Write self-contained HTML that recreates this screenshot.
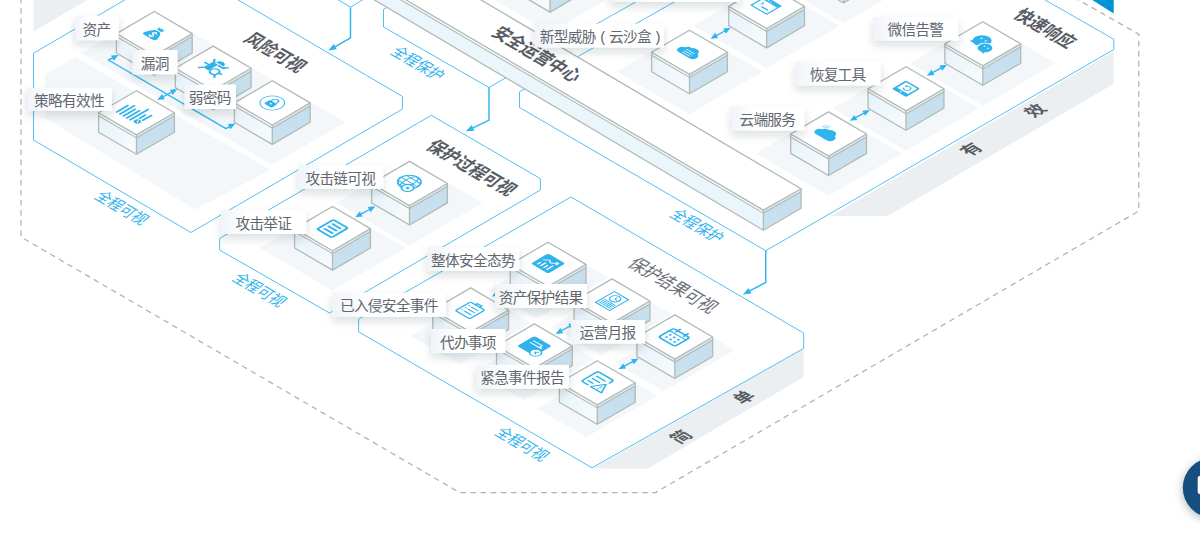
<!DOCTYPE html>
<html lang="zh-CN">
<head>
<meta charset="utf-8">
<title>安全运营中心</title>
<style>
html,body{margin:0;padding:0;background:#fff;}
body{width:1200px;height:533px;overflow:hidden;font-family:"Liberation Sans","Noto Sans CJK SC",sans-serif;}
.stage{position:relative;width:1200px;height:533px;overflow:hidden;}
svg{display:block;position:absolute;left:0;top:0;}
svg text{font-family:"Liberation Sans","Noto Sans CJK SC",sans-serif;}
.txt span{position:absolute;display:block;text-align:center;white-space:nowrap;overflow:hidden;color:transparent;font-size:14px;}
.txt .it{height:20px;line-height:20px;}
</style>
</head>
<body>
<div class="stage">
<svg width="1200" height="533" viewBox="0 0 1200 533">
<defs>
<linearGradient id="lf" x1="0" y1="0" x2="1" y2="0.5"><stop offset="0" stop-color="#e7f3fa"/><stop offset="1" stop-color="#f5fafd"/></linearGradient>
<linearGradient id="rf" x1="0" y1="0" x2="0" y2="1"><stop offset="0" stop-color="#c4ddec"/><stop offset="1" stop-color="#cbe2ef"/></linearGradient>
<linearGradient id="lb" x1="0" y1="0" x2="1" y2="0"><stop offset="0" stop-color="#f0f4f9"/><stop offset="0.35" stop-color="#fff"/></linearGradient>
<filter id="sh" x="-30%" y="-80%" width="160%" height="320%"><feDropShadow dx="0" dy="4.5" stdDeviation="4.5" flood-color="#1c2a38" flood-opacity="0.15"/></filter>
<filter id="sh2" x="-50%" y="-50%" width="200%" height="200%"><feDropShadow dx="0" dy="2" stdDeviation="5" flood-color="#000" flood-opacity="0.3"/></filter>
</defs>
<rect width="1200" height="533" fill="#fff"/>
<polyline points="21,-2 21,237 459.5,492.5 655.6,492.5 1138.75,211 1138.75,34.2 1077,-1" fill="none" stroke="#aab5b0" stroke-width="1.25" stroke-dasharray="5.6 4.5"/>
<polygon points="33.5,-1 33.5,31.4 89.2,-1" fill="#eceff2"/>
<polygon points="1113.75,51.6 1113.75,83.8 887.6,216 831,216" fill="#eceff2"/>
<polygon points="803.7,348.4 803.7,377 648,468.6 593.4,468.6" fill="#eceff2"/>
<polygon points="45,74.3 75,57 270.5,169.8 195,209.5 45,118" fill="#f4f7fa"/>
<polygon points="154.3,10.44 227.3,53 154.3,95.56 81.3,53" fill="#f4f7fa"/>
<polygon points="213.2,45.04 286.2,87.6 213.2,130.16 140.2,87.6" fill="#f4f7fa"/>
<polygon points="272.3,79.74 345.3,122.3 272.3,164.86 199.3,122.3" fill="#f4f7fa"/>
<polygon points="409.5,160.34 482.5,202.9 409.5,245.46 336.5,202.9" fill="#f4f7fa"/>
<polygon points="332.5,205.44 405.5,248 332.5,290.56 259.5,248" fill="#f4f7fa"/>
<polygon points="689.5,29.14 762.5,71.7 689.5,114.26 616.5,71.7" fill="#f4f7fa"/>
<polygon points="766.6,-16.76 839.6,25.8 766.6,68.36 693.6,25.8" fill="#f4f7fa"/>
<polygon points="843.5,-61.76 916.5,-19.2 843.5,23.36 770.5,-19.2" fill="#f4f7fa"/>
<polygon points="550,-52.56 623,-10 550,32.56 477,-10" fill="#f4f7fa"/>
<polygon points="982.8,20.64 1055.8,63.2 982.8,105.76 909.8,63.2" fill="#f4f7fa"/>
<polygon points="906,65.64 979,108.2 906,150.76 833,108.2" fill="#f4f7fa"/>
<polygon points="828.6,110.84 901.6,153.4 828.6,195.96 755.6,153.4" fill="#f4f7fa"/>
<polygon points="558.99,248.84 608.05,277.45 537.21,318.76 488.15,290.15" fill="#f4f7fa"/>
<polygon points="481.59,294.44 530.65,323.05 459.81,364.36 410.75,335.75" fill="#f4f7fa"/>
<polygon points="622.89,285.44 671.95,314.05 601.11,355.36 552.05,326.75" fill="#f4f7fa"/>
<polygon points="545.29,330.44 594.35,359.05 523.51,400.36 474.45,371.75" fill="#f4f7fa"/>
<polygon points="685.69,321.44 734.75,350.05 663.91,391.36 614.85,362.75" fill="#f4f7fa"/>
<polygon points="608.19,367.24 657.25,395.85 586.41,437.16 537.35,408.55" fill="#f4f7fa"/>
<polyline points="126.4,-1 33.5,53.2 33.5,140 190.9,232.5 402.5,109 402.5,96.5 236.5,-1" fill="none" stroke="#52c1f2" stroke-width="1"/>
<polyline points="337,-1 350.5,7.2 364,-1" fill="none" stroke="#52c1f2" stroke-width="1"/>
<polygon points="431.3,115.3 540.4,178.6 540.4,190 329.5,313 219.6,250 219.6,238.5" fill="none" stroke="#52c1f2" stroke-width="1"/>
<polygon points="571,197 803.7,333.1 803.7,348.4 592,467.8 358.6,331.8 358.6,319.2" fill="none" stroke="#52c1f2" stroke-width="1"/>
<polyline points="390,5.6 383.5,9.4 383.5,27 489,87.5 508.5,76.2" fill="none" stroke="#52c1f2" stroke-width="1"/>
<polyline points="527,87.6 519.5,91.8 519.5,107.5 765.75,250.75 1113.75,49.5 1113.75,39.2 1043.4,-1" fill="none" stroke="#52c1f2" stroke-width="1"/>
<polyline points="555,47.4 641,-1" fill="none" stroke="#52c1f2" stroke-width="1"/>
<polyline points="575,58.2 679.5,-1" fill="none" stroke="#52c1f2" stroke-width="1"/>
<polyline points="350.5,7.2 350.5,37.9 331.77,48.61" fill="none" stroke="#2fb5ee" stroke-width="1.45" stroke-linejoin="round"/><polygon points="328.3,50.6 333.7,43.94 336.78,49.32" fill="#2fb5ee"/>
<polyline points="489,87.5 489,120.2 469.41,129.57" fill="none" stroke="#2fb5ee" stroke-width="1.45" stroke-linejoin="round"/><polygon points="465.8,131.3 471.68,125.05 474.35,130.64" fill="#2fb5ee"/>
<polyline points="765.75,250.75 765.75,282.4 746.43,292.72" fill="none" stroke="#2fb5ee" stroke-width="1.45" stroke-linejoin="round"/><polygon points="742.9,294.6 748.5,288.1 751.42,293.57" fill="#2fb5ee"/>
<polygon points="323.4,-49.5 763.4,210.1 763.4,230.2 323.4,-30.28" fill="#ebf6fc"/><polygon points="323.4,-49.5 763.4,210.1 763.4,213.1 323.4,-46.5" fill="#f5fafd"/><polygon points="763.4,210.1 801.1,188.8 801.1,208.3 763.4,230.2" fill="url(#rf)"/><polygon points="763.4,210.1 801.1,188.8 801.1,191.8 763.4,213.1" fill="#dde9f2"/><polygon points="361.1,-70.8 801.1,188.8 763.4,210.1 323.4,-49.5" fill="#fff"/><polyline points="361.1,-70.8 801.1,188.8 763.4,210.1 323.4,-48.62" fill="none" stroke="#b1bab6" stroke-width="1.3" stroke-linejoin="round"/><polyline points="323.4,-45.62 763.4,213.1 801.1,191.8" fill="none" stroke="#b1bab6" stroke-width="1.1"/><polyline points="323.4,-30.28 763.4,230.2 801.1,208.3 801.1,188.8" fill="none" stroke="#b1bab6" stroke-width="1.3" stroke-linejoin="round"/><polyline points="763.4,210.1 763.4,230.2" fill="none" stroke="#b1bab6" stroke-width="1.3"/>
<polygon points="805.6,-38.6 843.5,-16.5 843.5,2.9 805.6,-19.2" fill="url(#lf)"/><polygon points="843.5,-16.5 881.4,-38.6 881.4,-19.2 843.5,2.9" fill="url(#rf)"/><polygon points="805.6,-38.6 843.5,-16.5 843.5,-13.5 805.6,-35.6" fill="#f4f8fb"/><polygon points="843.5,-16.5 881.4,-38.6 881.4,-35.6 843.5,-13.5" fill="#dde9f2"/><polyline points="805.6,-35.6 843.5,-13.5 881.4,-35.6" fill="none" stroke="#b1bab6" stroke-width="1.1"/><polyline points="805.6,-38.6 805.6,-19.2 843.5,2.9 881.4,-19.2 881.4,-38.6" fill="none" stroke="#b1bab6" stroke-width="1.3" stroke-linejoin="round"/><polyline points="843.5,-16.5 843.5,2.9" fill="none" stroke="#b1bab6" stroke-width="1.3"/><polygon points="843.5,-60.7 881.4,-38.6 843.5,-16.5 805.6,-38.6" fill="#fff" stroke="#b1bab6" stroke-width="1.3" stroke-linejoin="round"/>
<polygon points="512.1,-29.4 550,-7.3 550,12.1 512.1,-10" fill="url(#lf)"/><polygon points="550,-7.3 587.9,-29.4 587.9,-10 550,12.1" fill="url(#rf)"/><polygon points="512.1,-29.4 550,-7.3 550,-4.3 512.1,-26.4" fill="#f4f8fb"/><polygon points="550,-7.3 587.9,-29.4 587.9,-26.4 550,-4.3" fill="#dde9f2"/><polyline points="512.1,-26.4 550,-4.3 587.9,-26.4" fill="none" stroke="#b1bab6" stroke-width="1.1"/><polyline points="512.1,-29.4 512.1,-10 550,12.1 587.9,-10 587.9,-29.4" fill="none" stroke="#b1bab6" stroke-width="1.3" stroke-linejoin="round"/><polyline points="550,-7.3 550,12.1" fill="none" stroke="#b1bab6" stroke-width="1.3"/><polygon points="550,-51.5 587.9,-29.4 550,-7.3 512.1,-29.4" fill="#fff" stroke="#b1bab6" stroke-width="1.3" stroke-linejoin="round"/>
<polygon points="728.7,6.4 766.6,28.5 766.6,47.9 728.7,25.8" fill="url(#lf)"/><polygon points="766.6,28.5 804.5,6.4 804.5,25.8 766.6,47.9" fill="url(#rf)"/><polygon points="728.7,6.4 766.6,28.5 766.6,31.5 728.7,9.4" fill="#f4f8fb"/><polygon points="766.6,28.5 804.5,6.4 804.5,9.4 766.6,31.5" fill="#dde9f2"/><polyline points="728.7,9.4 766.6,31.5 804.5,9.4" fill="none" stroke="#b1bab6" stroke-width="1.1"/><polyline points="728.7,6.4 728.7,25.8 766.6,47.9 804.5,25.8 804.5,6.4" fill="none" stroke="#b1bab6" stroke-width="1.3" stroke-linejoin="round"/><polyline points="766.6,28.5 766.6,47.9" fill="none" stroke="#b1bab6" stroke-width="1.3"/><polygon points="766.6,-15.7 804.5,6.4 766.6,28.5 728.7,6.4" fill="#fff" stroke="#b1bab6" stroke-width="1.3" stroke-linejoin="round"/>
<g transform="matrix(0.8639 0.5037 -0.8639 0.5037 766.6 6.4)"><g transform="translate(-1.1 -0.5)"><rect x="-9" y="-8.2" width="18" height="16.4"  fill="none" stroke="#30b3ec" stroke-width="1.4" stroke-linecap="round" stroke-linejoin="round"/><rect x="-9" y="-8.2" width="18" height="3.8" fill="#30b3ec"/><path d="M-7,-6.3 H-5.6 M-4.2,-6.3 H-2.8 M-1.4,-6.3 H0" stroke="#fff" stroke-width="1"/><path d="M-5.2,-1.6 L-3.2,0.2 L-5.2,2"  fill="none" stroke="#30b3ec" stroke-width="1.0" stroke-linecap="round" stroke-linejoin="round"/><path d="M-1.2,3.6 H5"  fill="none" stroke="#30b3ec" stroke-width="1.6" stroke-linecap="round" stroke-linejoin="round"/></g></g>
<polygon points="116.4,33.6 154.3,55.7 154.3,75.1 116.4,53" fill="url(#lf)"/><polygon points="154.3,55.7 192.2,33.6 192.2,53 154.3,75.1" fill="url(#rf)"/><polygon points="116.4,33.6 154.3,55.7 154.3,58.7 116.4,36.6" fill="#f4f8fb"/><polygon points="154.3,55.7 192.2,33.6 192.2,36.6 154.3,58.7" fill="#dde9f2"/><polyline points="116.4,36.6 154.3,58.7 192.2,36.6" fill="none" stroke="#b1bab6" stroke-width="1.1"/><polyline points="116.4,33.6 116.4,53 154.3,75.1 192.2,53 192.2,33.6" fill="none" stroke="#b1bab6" stroke-width="1.3" stroke-linejoin="round"/><polyline points="154.3,55.7 154.3,75.1" fill="none" stroke="#b1bab6" stroke-width="1.3"/><polygon points="154.3,11.5 192.2,33.6 154.3,55.7 116.4,33.6" fill="#fff" stroke="#b1bab6" stroke-width="1.3" stroke-linejoin="round"/>
<g transform="matrix(0.8639 0.5037 -0.8639 0.5037 154.3 33.6)"><path d="M-4.6,7 Q-8.4,7 -7,3.2 Q-5.6,-2 -2.4,-4.4 H2.4 Q5.6,-2 7,3.2 Q8.4,7 4.6,7 Z" fill="#30b3ec"/><path d="M-3.7,-9.4 L-1.5,-8 L0,-9.6 L1.5,-8 L3.7,-9.4 L2.3,-5.6 L-2.3,-5.6 Z" fill="#30b3ec"/><path d="M1.9,-0.6 C1,-1.9 -2,-1.7 -1.9,0 C-1.8,1.7 2,1.3 2,3.3 C2,5.1 -1.3,5.2 -2.2,3.7"  fill="none" stroke="#fff" stroke-width="1.1" stroke-linecap="round" stroke-linejoin="round"/><path d="M0,-2.6 V6"  fill="none" stroke="#fff" stroke-width="0.9" stroke-linecap="round" stroke-linejoin="round"/></g>
<polygon points="944.9,43.8 982.8,65.9 982.8,85.3 944.9,63.2" fill="url(#lf)"/><polygon points="982.8,65.9 1020.7,43.8 1020.7,63.2 982.8,85.3" fill="url(#rf)"/><polygon points="944.9,43.8 982.8,65.9 982.8,68.9 944.9,46.8" fill="#f4f8fb"/><polygon points="982.8,65.9 1020.7,43.8 1020.7,46.8 982.8,68.9" fill="#dde9f2"/><polyline points="944.9,46.8 982.8,68.9 1020.7,46.8" fill="none" stroke="#b1bab6" stroke-width="1.1"/><polyline points="944.9,43.8 944.9,63.2 982.8,85.3 1020.7,63.2 1020.7,43.8" fill="none" stroke="#b1bab6" stroke-width="1.3" stroke-linejoin="round"/><polyline points="982.8,65.9 982.8,85.3" fill="none" stroke="#b1bab6" stroke-width="1.3"/><polygon points="982.8,21.7 1020.7,43.8 982.8,65.9 944.9,43.8" fill="#fff" stroke="#b1bab6" stroke-width="1.3" stroke-linejoin="round"/>
<g transform="matrix(0.8639 0.5037 -0.8639 0.5037 982.8 43.8)"><circle cx="-3.4" cy="-2.6" r="7.8" fill="#30b3ec"/><path d="M-9.6,1.6 L-10.4,4.8 L-6.4,4.2 Z" fill="#30b3ec"/><circle cx="5.4" cy="2.8" r="6.6" fill="#30b3ec" stroke="#fff" stroke-width="1.1"/><path d="M9.2,7 L10.2,9.4 L6.4,8.6 Z" fill="#30b3ec"/><circle cx="-6.2" cy="-4.6" r="0.95" fill="#fff"/><circle cx="-1.2" cy="-4.6" r="0.95" fill="#fff"/><circle cx="3.4" cy="1.4" r="0.8" fill="#fff"/><circle cx="7.4" cy="1.4" r="0.8" fill="#fff"/></g>
<polygon points="651.6,52.3 689.5,74.4 689.5,93.8 651.6,71.7" fill="url(#lf)"/><polygon points="689.5,74.4 727.4,52.3 727.4,71.7 689.5,93.8" fill="url(#rf)"/><polygon points="651.6,52.3 689.5,74.4 689.5,77.4 651.6,55.3" fill="#f4f8fb"/><polygon points="689.5,74.4 727.4,52.3 727.4,55.3 689.5,77.4" fill="#dde9f2"/><polyline points="651.6,55.3 689.5,77.4 727.4,55.3" fill="none" stroke="#b1bab6" stroke-width="1.1"/><polyline points="651.6,52.3 651.6,71.7 689.5,93.8 727.4,71.7 727.4,52.3" fill="none" stroke="#b1bab6" stroke-width="1.3" stroke-linejoin="round"/><polyline points="689.5,74.4 689.5,93.8" fill="none" stroke="#b1bab6" stroke-width="1.3"/><polygon points="689.5,30.2 727.4,52.3 689.5,74.4 651.6,52.3" fill="#fff" stroke="#b1bab6" stroke-width="1.3" stroke-linejoin="round"/>
<g transform="matrix(0.8639 0.5037 -0.8639 0.5037 689.5 52.3)"><path d="M-6.6,6 A4.3,4.3 0 0 1 -7.4,-2.5 A3.6,3.6 0 0 1 -3.2,-5.4 A5.6,5.6 0 0 1 6.6,-2.6 A4.4,4.4 0 0 1 6.2,6 Z" fill="#30b3ec"/><path d="M-4.2,-1.4 H4 M-4.2,1.2 H4 M-4.2,3.8 H4"  fill="none" stroke="#fff" stroke-width="1.0" stroke-linecap="round" stroke-linejoin="round" stroke-dasharray="1.5 1.2"/></g>
<polygon points="175.3,68.2 213.2,90.3 213.2,109.7 175.3,87.6" fill="url(#lf)"/><polygon points="213.2,90.3 251.1,68.2 251.1,87.6 213.2,109.7" fill="url(#rf)"/><polygon points="175.3,68.2 213.2,90.3 213.2,93.3 175.3,71.2" fill="#f4f8fb"/><polygon points="213.2,90.3 251.1,68.2 251.1,71.2 213.2,93.3" fill="#dde9f2"/><polyline points="175.3,71.2 213.2,93.3 251.1,71.2" fill="none" stroke="#b1bab6" stroke-width="1.1"/><polyline points="175.3,68.2 175.3,87.6 213.2,109.7 251.1,87.6 251.1,68.2" fill="none" stroke="#b1bab6" stroke-width="1.3" stroke-linejoin="round"/><polyline points="213.2,90.3 213.2,109.7" fill="none" stroke="#b1bab6" stroke-width="1.3"/><polygon points="213.2,46.1 251.1,68.2 213.2,90.3 175.3,68.2" fill="#fff" stroke="#b1bab6" stroke-width="1.3" stroke-linejoin="round"/>
<g transform="matrix(0.8639 0.5037 -0.8639 0.5037 213.2 68.2)"><path d="M-4.2,-7.6 A4.2,4.2 0 0 1 4.2,-7.6 Z" fill="#30b3ec"/><path d="M-6.6,-6.2 H-0.6 V5 H-4.2 A2.4,2.4 0 0 1 -6.6,2.6 Z" fill="#30b3ec"/><path d="M0.6,-5.6 H6.8"  fill="none" stroke="#30b3ec" stroke-width="2.0" stroke-linecap="round" stroke-linejoin="round"/><circle cx="4.3" cy="2.6" r="4.0"  fill="none" stroke="#30b3ec" stroke-width="1.8" stroke-linecap="round" stroke-linejoin="round"/><path d="M-6.4,4.4 L-9,7.6 M5.6,-6.4 L8.4,-9 M-5.2,-6.4 L-8,-9.4 M7.4,5.8 L9.6,8.2 M-6.6,-1 H-10.4 M8.6,1.4 H10.8"  fill="none" stroke="#30b3ec" stroke-width="1.9" stroke-linecap="round" stroke-linejoin="round"/></g>
<polygon points="868.1,88.8 906,110.9 906,130.3 868.1,108.2" fill="url(#lf)"/><polygon points="906,110.9 943.9,88.8 943.9,108.2 906,130.3" fill="url(#rf)"/><polygon points="868.1,88.8 906,110.9 906,113.9 868.1,91.8" fill="#f4f8fb"/><polygon points="906,110.9 943.9,88.8 943.9,91.8 906,113.9" fill="#dde9f2"/><polyline points="868.1,91.8 906,113.9 943.9,91.8" fill="none" stroke="#b1bab6" stroke-width="1.1"/><polyline points="868.1,88.8 868.1,108.2 906,130.3 943.9,108.2 943.9,88.8" fill="none" stroke="#b1bab6" stroke-width="1.3" stroke-linejoin="round"/><polyline points="906,110.9 906,130.3" fill="none" stroke="#b1bab6" stroke-width="1.3"/><polygon points="906,66.7 943.9,88.8 906,110.9 868.1,88.8" fill="#fff" stroke="#b1bab6" stroke-width="1.3" stroke-linejoin="round"/>
<g transform="matrix(0.8639 0.5037 -0.8639 0.5037 906 88.8)"><rect x="-8.2" y="-8.2" width="16.4" height="16.4" rx="1.6" fill="#30b3ec"/><rect x="-6.3" y="-6.6" width="12.6" height="10.6" fill="#fff"/><path d="M-2.4,-2.6 A3,3 0 1 1 -2.2,0.6"  fill="none" stroke="#30b3ec" stroke-width="1.1" stroke-linecap="round" stroke-linejoin="round"/><path d="M-4.2,-3.2 L-2.2,-1.6 L-1.4,-4 Z" fill="#30b3ec"/><circle cx="0" cy="6.2" r="0.85" fill="#fff"/></g>
<polygon points="234.4,102.9 272.3,125 272.3,144.4 234.4,122.3" fill="url(#lf)"/><polygon points="272.3,125 310.2,102.9 310.2,122.3 272.3,144.4" fill="url(#rf)"/><polygon points="234.4,102.9 272.3,125 272.3,128 234.4,105.9" fill="#f4f8fb"/><polygon points="272.3,125 310.2,102.9 310.2,105.9 272.3,128" fill="#dde9f2"/><polyline points="234.4,105.9 272.3,128 310.2,105.9" fill="none" stroke="#b1bab6" stroke-width="1.1"/><polyline points="234.4,102.9 234.4,122.3 272.3,144.4 310.2,122.3 310.2,102.9" fill="none" stroke="#b1bab6" stroke-width="1.3" stroke-linejoin="round"/><polyline points="272.3,125 272.3,144.4" fill="none" stroke="#b1bab6" stroke-width="1.3"/><polygon points="272.3,80.8 310.2,102.9 272.3,125 234.4,102.9" fill="#fff" stroke="#b1bab6" stroke-width="1.3" stroke-linejoin="round"/>
<g transform="matrix(0.8639 0.5037 -0.8639 0.5037 272.3 102.9)"><circle r="10"  fill="none" stroke="#4bbdf0" stroke-width="1.0" stroke-linecap="round" stroke-linejoin="round"/><rect x="-4.3" y="-1.6" width="8.6" height="7" rx="1.2" fill="#30b3ec"/><path d="M-2.7,-1.6 V-3.4 A2.7,2.7 0 0 1 2.7,-3.4 V-1.6"  fill="none" stroke="#30b3ec" stroke-width="1.2" stroke-linecap="round" stroke-linejoin="round"/><circle cx="0" cy="1.8" r="1" fill="#fff"/></g>
<polygon points="98.6,112.8 136.5,134.9 136.5,154.3 98.6,132.2" fill="url(#lf)"/><polygon points="136.5,134.9 174.4,112.8 174.4,132.2 136.5,154.3" fill="url(#rf)"/><polygon points="98.6,112.8 136.5,134.9 136.5,137.9 98.6,115.8" fill="#f4f8fb"/><polygon points="136.5,134.9 174.4,112.8 174.4,115.8 136.5,137.9" fill="#dde9f2"/><polyline points="98.6,115.8 136.5,137.9 174.4,115.8" fill="none" stroke="#b1bab6" stroke-width="1.1"/><polyline points="98.6,112.8 98.6,132.2 136.5,154.3 174.4,132.2 174.4,112.8" fill="none" stroke="#b1bab6" stroke-width="1.3" stroke-linejoin="round"/><polyline points="136.5,134.9 136.5,154.3" fill="none" stroke="#b1bab6" stroke-width="1.3"/><polygon points="136.5,90.7 174.4,112.8 136.5,134.9 98.6,112.8" fill="#fff" stroke="#b1bab6" stroke-width="1.3" stroke-linejoin="round"/>
<g transform="matrix(0.8639 0.5037 -0.8639 0.5037 136.5 112.8)"><g transform="translate(1.2 1.2)"><path d="M-13.4,9.4 V-3.3 M-9.5,9.4 V-7.0 M-5.6,9.4 V-3.9 M-1.7,9.4 V-5.0 M2.2,9.4 V-11.1 M6.1,2.2 V-4.0 M10.0,2.6 V-7.2 "  fill="none" stroke="#30b3ec" stroke-width="2.0" stroke-linecap="round" stroke-linejoin="round"/><circle cx="8" cy="7" r="3.0" fill="#30b3ec"/><path d="M7.9,5.4 V7.3 L9.3,8"  fill="none" stroke="#fff" stroke-width="0.8" stroke-linecap="round" stroke-linejoin="round"/></g></g>
<polygon points="790.7,134 828.6,156.1 828.6,175.5 790.7,153.4" fill="url(#lf)"/><polygon points="828.6,156.1 866.5,134 866.5,153.4 828.6,175.5" fill="url(#rf)"/><polygon points="790.7,134 828.6,156.1 828.6,159.1 790.7,137" fill="#f4f8fb"/><polygon points="828.6,156.1 866.5,134 866.5,137 828.6,159.1" fill="#dde9f2"/><polyline points="790.7,137 828.6,159.1 866.5,137" fill="none" stroke="#b1bab6" stroke-width="1.1"/><polyline points="790.7,134 790.7,153.4 828.6,175.5 866.5,153.4 866.5,134" fill="none" stroke="#b1bab6" stroke-width="1.3" stroke-linejoin="round"/><polyline points="828.6,156.1 828.6,175.5" fill="none" stroke="#b1bab6" stroke-width="1.3"/><polygon points="828.6,111.9 866.5,134 828.6,156.1 790.7,134" fill="#fff" stroke="#b1bab6" stroke-width="1.3" stroke-linejoin="round"/>
<g transform="matrix(0.8639 0.5037 -0.8639 0.5037 828.6 134)"><path d="M-6.6,6 A4.3,4.3 0 0 1 -7.4,-2.5 A3.6,3.6 0 0 1 -3.2,-5.4 A5.6,5.6 0 0 1 6.6,-2.6 A4.4,4.4 0 0 1 6.2,6 Z" fill="#30b3ec" transform="translate(-0.7 1.4)"/></g>
<polygon points="371.6,183.5 409.5,205.6 409.5,225 371.6,202.9" fill="url(#lf)"/><polygon points="409.5,205.6 447.4,183.5 447.4,202.9 409.5,225" fill="url(#rf)"/><polygon points="371.6,183.5 409.5,205.6 409.5,208.6 371.6,186.5" fill="#f4f8fb"/><polygon points="409.5,205.6 447.4,183.5 447.4,186.5 409.5,208.6" fill="#dde9f2"/><polyline points="371.6,186.5 409.5,208.6 447.4,186.5" fill="none" stroke="#b1bab6" stroke-width="1.1"/><polyline points="371.6,183.5 371.6,202.9 409.5,225 447.4,202.9 447.4,183.5" fill="none" stroke="#b1bab6" stroke-width="1.3" stroke-linejoin="round"/><polyline points="409.5,205.6 409.5,225" fill="none" stroke="#b1bab6" stroke-width="1.3"/><polygon points="409.5,161.4 447.4,183.5 409.5,205.6 371.6,183.5" fill="#fff" stroke="#b1bab6" stroke-width="1.3" stroke-linejoin="round"/>
<g transform="matrix(0.8639 0.5037 -0.8639 0.5037 409.5 183.5)"><circle cx="-1.6" cy="-1.4" r="9.5"  fill="none" stroke="#30b3ec" stroke-width="1.5" stroke-linecap="round" stroke-linejoin="round"/><ellipse cx="-1.6" cy="-1.4" rx="4" ry="9.5"  fill="none" stroke="#30b3ec" stroke-width="1.1" stroke-linecap="round" stroke-linejoin="round"/><path d="M-11.1,-1.4 H7.9 M-9.6,-6.2 H6.4 M-9.6,3.4 H6.4"  fill="none" stroke="#30b3ec" stroke-width="1.1" stroke-linecap="round" stroke-linejoin="round"/><circle cx="3.3" cy="5.5" r="5" fill="#fff" stroke="#30b3ec" stroke-width="1.5"/><circle cx="3.3" cy="5.5" r="1.6" fill="#30b3ec"/></g>
<polygon points="294.6,228.6 332.5,250.7 332.5,270.1 294.6,248" fill="url(#lf)"/><polygon points="332.5,250.7 370.4,228.6 370.4,248 332.5,270.1" fill="url(#rf)"/><polygon points="294.6,228.6 332.5,250.7 332.5,253.7 294.6,231.6" fill="#f4f8fb"/><polygon points="332.5,250.7 370.4,228.6 370.4,231.6 332.5,253.7" fill="#dde9f2"/><polyline points="294.6,231.6 332.5,253.7 370.4,231.6" fill="none" stroke="#b1bab6" stroke-width="1.1"/><polyline points="294.6,228.6 294.6,248 332.5,270.1 370.4,248 370.4,228.6" fill="none" stroke="#b1bab6" stroke-width="1.3" stroke-linejoin="round"/><polyline points="332.5,250.7 332.5,270.1" fill="none" stroke="#b1bab6" stroke-width="1.3"/><polygon points="332.5,206.5 370.4,228.6 332.5,250.7 294.6,228.6" fill="#fff" stroke="#b1bab6" stroke-width="1.3" stroke-linejoin="round"/>
<g transform="matrix(0.8639 0.5037 -0.8639 0.5037 332.5 228.6)"><rect x="-8.3" y="-9.3" width="16.6" height="18.6" rx="1.6"  fill="none" stroke="#30b3ec" stroke-width="2.1" stroke-linecap="round" stroke-linejoin="round"/><path d="M-4.4,-4.6 H4.4 M-4.4,0 H4.4 M-4.4,4.6 H4.4"  fill="none" stroke="#30b3ec" stroke-width="2.1" stroke-linecap="round" stroke-linejoin="round"/></g>
<polygon points="510.2,264.4 548.1,286.5 548.1,305.9 510.2,283.8" fill="url(#lf)"/><polygon points="548.1,286.5 586,264.4 586,283.8 548.1,305.9" fill="url(#rf)"/><polygon points="510.2,264.4 548.1,286.5 548.1,289.5 510.2,267.4" fill="#f4f8fb"/><polygon points="548.1,286.5 586,264.4 586,267.4 548.1,289.5" fill="#dde9f2"/><polyline points="510.2,267.4 548.1,289.5 586,267.4" fill="none" stroke="#b1bab6" stroke-width="1.1"/><polyline points="510.2,264.4 510.2,283.8 548.1,305.9 586,283.8 586,264.4" fill="none" stroke="#b1bab6" stroke-width="1.3" stroke-linejoin="round"/><polyline points="548.1,286.5 548.1,305.9" fill="none" stroke="#b1bab6" stroke-width="1.3"/><polygon points="548.1,242.3 586,264.4 548.1,286.5 510.2,264.4" fill="#fff" stroke="#b1bab6" stroke-width="1.3" stroke-linejoin="round"/>
<g transform="matrix(0.8639 0.5037 -0.8639 0.5037 548.1 264.4)"><g transform="translate(-0.9 -0.9)"><rect x="-10" y="-10" width="20" height="20" rx="2.2" fill="#30b3ec"/><path d="M-5.6,6.4 V3.2 M-2,6.4 V1 M1.6,6.4 V2.6 M5.2,6.4 V0"  fill="none" stroke="#fff" stroke-width="1.5" stroke-linecap="round" stroke-linejoin="round"/><path d="M-6.4,-0.6 L-2.4,-4.2 L0.8,-1.8 L5.8,-5.6"  fill="none" stroke="#fff" stroke-width="1.1" stroke-linecap="round" stroke-linejoin="round"/><path d="M3.6,-6.2 L6.4,-6 L5.8,-3.2"  fill="none" stroke="#fff" stroke-width="1.1" stroke-linecap="round" stroke-linejoin="round"/></g></g>
<polygon points="574.1,301 612,323.1 612,342.5 574.1,320.4" fill="url(#lf)"/><polygon points="612,323.1 649.9,301 649.9,320.4 612,342.5" fill="url(#rf)"/><polygon points="574.1,301 612,323.1 612,326.1 574.1,304" fill="#f4f8fb"/><polygon points="612,323.1 649.9,301 649.9,304 612,326.1" fill="#dde9f2"/><polyline points="574.1,304 612,326.1 649.9,304" fill="none" stroke="#b1bab6" stroke-width="1.1"/><polyline points="574.1,301 574.1,320.4 612,342.5 649.9,320.4 649.9,301" fill="none" stroke="#b1bab6" stroke-width="1.3" stroke-linejoin="round"/><polyline points="612,323.1 612,342.5" fill="none" stroke="#b1bab6" stroke-width="1.3"/><polygon points="612,278.9 649.9,301 612,323.1 574.1,301" fill="#fff" stroke="#b1bab6" stroke-width="1.3" stroke-linejoin="round"/>
<g transform="matrix(0.8639 0.5037 -0.8639 0.5037 612 301)"><rect x="-8.1" y="-10.8" width="16.2" height="21.6"  fill="none" stroke="#30b3ec" stroke-width="1.25" stroke-linecap="round" stroke-linejoin="round"/><circle cx="-0.3" cy="-4" r="4.5"  fill="none" stroke="#30b3ec" stroke-width="1.2" stroke-linecap="round" stroke-linejoin="round"/><path d="M-0.3,-6.6 V-3.8 L2.4,-3"  fill="none" stroke="#30b3ec" stroke-width="1.0" stroke-linecap="round" stroke-linejoin="round"/><path d="M-6.4,2.6 H6.4 M-6.4,4.5 H6.4 M-6.4,6.4 H6.4 M-6.4,8.3 H6.4 M2.4,2.6 V8.3"  fill="none" stroke="#30b3ec" stroke-width="0.85" stroke-linecap="round" stroke-linejoin="round"/></g>
<polygon points="432.8,310 470.7,332.1 470.7,351.5 432.8,329.4" fill="url(#lf)"/><polygon points="470.7,332.1 508.6,310 508.6,329.4 470.7,351.5" fill="url(#rf)"/><polygon points="432.8,310 470.7,332.1 470.7,335.1 432.8,313" fill="#f4f8fb"/><polygon points="470.7,332.1 508.6,310 508.6,313 470.7,335.1" fill="#dde9f2"/><polyline points="432.8,313 470.7,335.1 508.6,313" fill="none" stroke="#b1bab6" stroke-width="1.1"/><polyline points="432.8,310 432.8,329.4 470.7,351.5 508.6,329.4 508.6,310" fill="none" stroke="#b1bab6" stroke-width="1.3" stroke-linejoin="round"/><polyline points="470.7,332.1 470.7,351.5" fill="none" stroke="#b1bab6" stroke-width="1.3"/><polygon points="470.7,287.9 508.6,310 470.7,332.1 432.8,310" fill="#fff" stroke="#b1bab6" stroke-width="1.3" stroke-linejoin="round"/>
<g transform="matrix(0.8639 0.5037 -0.8639 0.5037 470.7 310)"><rect x="-8.2" y="-8" width="16.4" height="17.4" rx="1.4"  fill="none" stroke="#30b3ec" stroke-width="1.5" stroke-linecap="round" stroke-linejoin="round"/><path d="M-2.6,-8 V-10.2 H2.6 V-8"  fill="none" stroke="#30b3ec" stroke-width="1.5" stroke-linecap="round" stroke-linejoin="round"/><path d="M-2.4,-3.4 H5 M-2.4,0.6 H5 M-2.4,4.6 H5 M-5.4,-3.4 H-4.6 M-5.4,0.6 H-4.6 M-5.4,4.6 H-4.6"  fill="none" stroke="#30b3ec" stroke-width="1.2" stroke-linecap="round" stroke-linejoin="round"/></g>
<polygon points="636.9,337 674.8,359.1 674.8,378.5 636.9,356.4" fill="url(#lf)"/><polygon points="674.8,359.1 712.7,337 712.7,356.4 674.8,378.5" fill="url(#rf)"/><polygon points="636.9,337 674.8,359.1 674.8,362.1 636.9,340" fill="#f4f8fb"/><polygon points="674.8,359.1 712.7,337 712.7,340 674.8,362.1" fill="#dde9f2"/><polyline points="636.9,340 674.8,362.1 712.7,340" fill="none" stroke="#b1bab6" stroke-width="1.1"/><polyline points="636.9,337 636.9,356.4 674.8,378.5 712.7,356.4 712.7,337" fill="none" stroke="#b1bab6" stroke-width="1.3" stroke-linejoin="round"/><polyline points="674.8,359.1 674.8,378.5" fill="none" stroke="#b1bab6" stroke-width="1.3"/><polygon points="674.8,314.9 712.7,337 674.8,359.1 636.9,337" fill="#fff" stroke="#b1bab6" stroke-width="1.3" stroke-linejoin="round"/>
<g transform="matrix(0.8639 0.5037 -0.8639 0.5037 674.8 337)"><g transform="scale(1.06)"><rect x="-8.8" y="-7.4" width="17.6" height="16.2" rx="2.2"  fill="none" stroke="#30b3ec" stroke-width="1.7" stroke-linecap="round" stroke-linejoin="round"/><path d="M-8.8,-3.2 H8.8"  fill="none" stroke="#30b3ec" stroke-width="1.3" stroke-linecap="round" stroke-linejoin="round"/><path d="M-4.2,-10.2 V-5.6 M4.2,-10.2 V-5.6"  fill="none" stroke="#30b3ec" stroke-width="1.7" stroke-linecap="round" stroke-linejoin="round"/><circle cx="-4.4" cy="0.6" r="1.15" fill="#30b3ec"/><circle cx="-4.4" cy="4.6" r="1.15" fill="#30b3ec"/><circle cx="0" cy="0.6" r="1.15" fill="#30b3ec"/><circle cx="0" cy="4.6" r="1.15" fill="#30b3ec"/><circle cx="4.4" cy="0.6" r="1.15" fill="#30b3ec"/><circle cx="4.4" cy="4.6" r="1.15" fill="#30b3ec"/></g></g>
<polygon points="496.5,346 534.4,368.1 534.4,387.5 496.5,365.4" fill="url(#lf)"/><polygon points="534.4,368.1 572.3,346 572.3,365.4 534.4,387.5" fill="url(#rf)"/><polygon points="496.5,346 534.4,368.1 534.4,371.1 496.5,349" fill="#f4f8fb"/><polygon points="534.4,368.1 572.3,346 572.3,349 534.4,371.1" fill="#dde9f2"/><polyline points="496.5,349 534.4,371.1 572.3,349" fill="none" stroke="#b1bab6" stroke-width="1.1"/><polyline points="496.5,346 496.5,365.4 534.4,387.5 572.3,365.4 572.3,346" fill="none" stroke="#b1bab6" stroke-width="1.3" stroke-linejoin="round"/><polyline points="534.4,368.1 534.4,387.5" fill="none" stroke="#b1bab6" stroke-width="1.3"/><polygon points="534.4,323.9 572.3,346 534.4,368.1 496.5,346" fill="#fff" stroke="#b1bab6" stroke-width="1.3" stroke-linejoin="round"/>
<g transform="matrix(0.8639 0.5037 -0.8639 0.5037 534.4 346)"><rect x="-10.1" y="-10.1" width="20.2" height="20.2" rx="2.2" fill="#30b3ec"/><path d="M-5.8,-4.8 H4.4 M-5.8,-1.2 H6.4"  fill="none" stroke="#fff" stroke-width="1.1" stroke-linecap="round" stroke-linejoin="round"/><path d="M3.4,-4.6 L7.4,-1.4 L3.4,-1 Z" fill="#fff"/><circle cx="7.4" cy="6" r="4.9" fill="#fff" stroke="#30b3ec" stroke-width="1.3"/><path d="M8.6,3.8 L6.4,6 L8.8,7.4"  fill="none" stroke="#30b3ec" stroke-width="1.1" stroke-linecap="round" stroke-linejoin="round"/></g>
<polygon points="559.4,382.8 597.3,404.9 597.3,424.3 559.4,402.2" fill="url(#lf)"/><polygon points="597.3,404.9 635.2,382.8 635.2,402.2 597.3,424.3" fill="url(#rf)"/><polygon points="559.4,382.8 597.3,404.9 597.3,407.9 559.4,385.8" fill="#f4f8fb"/><polygon points="597.3,404.9 635.2,382.8 635.2,385.8 597.3,407.9" fill="#dde9f2"/><polyline points="559.4,385.8 597.3,407.9 635.2,385.8" fill="none" stroke="#b1bab6" stroke-width="1.1"/><polyline points="559.4,382.8 559.4,402.2 597.3,424.3 635.2,402.2 635.2,382.8" fill="none" stroke="#b1bab6" stroke-width="1.3" stroke-linejoin="round"/><polyline points="597.3,404.9 597.3,424.3" fill="none" stroke="#b1bab6" stroke-width="1.3"/><polygon points="597.3,360.7 635.2,382.8 597.3,404.9 559.4,382.8" fill="#fff" stroke="#b1bab6" stroke-width="1.3" stroke-linejoin="round"/>
<g transform="matrix(0.8639 0.5037 -0.8639 0.5037 597.3 382.8)"><g transform="translate(-1.8 -2.1)"><path d="M-1.6,9.55 H-6.9 A2.25,2.25 0 0 1 -9.15,7.3 V-7.3 A2.25,2.25 0 0 1 -6.9,-9.55 H6.9 A2.25,2.25 0 0 1 9.15,-7.3 V-4.8"  fill="none" stroke="#30b3ec" stroke-width="1.7" stroke-linecap="round" stroke-linejoin="round"/><path d="M-5.3,-4.2 H4.5 M-5.4,0.5 H2.6 M-5.6,5.2 H-0.4"  fill="none" stroke="#30b3ec" stroke-width="1.6" stroke-linecap="round" stroke-linejoin="round"/><path d="M8.3,-1.6 L14.2,9.7 H1.6 Z" fill="#fff" stroke="#30b3ec" stroke-width="1.5" stroke-linejoin="round"/><path d="M8.1,3 V6"  fill="none" stroke="#30b3ec" stroke-width="1.1" stroke-linecap="round" stroke-linejoin="round"/><circle cx="8.1" cy="7.9" r="0.7" fill="#30b3ec"/></g></g>
<g fill="none" stroke="#7fd0f4" stroke-width="0.8" stroke-linecap="round"><path d="M822.4,126.6 q4,-2.2 8,0"/><path d="M823.8,128 q2.6,-1.4 5.2,0"/></g>
<polyline points="160.77,98 173.93,90.9" fill="none" stroke="#2fb5ee" stroke-width="1.4"/><polygon points="157.25,99.9 162.03,94.02 164.79,99.13" fill="#2fb5ee"/><polygon points="177.45,89 172.67,94.88 169.91,89.77" fill="#2fb5ee"/>
<polyline points="358.62,215.35 371.78,208.25" fill="none" stroke="#2fb5ee" stroke-width="1.4"/><polygon points="355.1,217.25 359.88,211.37 362.64,216.48" fill="#2fb5ee"/><polygon points="375.3,206.35 370.52,212.23 367.76,207.12" fill="#2fb5ee"/>
<polyline points="495.32,294.7 508.48,287.6" fill="none" stroke="#2fb5ee" stroke-width="1.4"/><polygon points="491.8,296.6 496.58,290.72 499.34,295.83" fill="#2fb5ee"/><polygon points="512,285.7 507.22,291.58 504.46,286.47" fill="#2fb5ee"/>
<polyline points="559.12,332 572.28,324.9" fill="none" stroke="#2fb5ee" stroke-width="1.4"/><polygon points="555.6,333.9 560.38,328.02 563.14,333.13" fill="#2fb5ee"/><polygon points="575.8,323 571.02,328.88 568.26,323.77" fill="#2fb5ee"/>
<polyline points="621.97,367.4 635.13,360.3" fill="none" stroke="#2fb5ee" stroke-width="1.4"/><polygon points="618.45,369.3 623.23,363.42 625.99,368.53" fill="#2fb5ee"/><polygon points="638.65,358.4 633.87,364.28 631.11,359.17" fill="#2fb5ee"/>
<polyline points="713.97,36.85 727.13,29.75" fill="none" stroke="#2fb5ee" stroke-width="1.4"/><polygon points="710.45,38.75 715.23,32.87 717.99,37.98" fill="#2fb5ee"/><polygon points="730.65,27.85 725.87,33.73 723.11,28.62" fill="#2fb5ee"/>
<polyline points="853.22,118.9 866.38,111.8" fill="none" stroke="#2fb5ee" stroke-width="1.4"/><polygon points="849.7,120.8 854.48,114.92 857.24,120.03" fill="#2fb5ee"/><polygon points="869.9,109.9 865.12,115.78 862.36,110.67" fill="#2fb5ee"/>
<polyline points="930.32,73.8 943.48,66.7" fill="none" stroke="#2fb5ee" stroke-width="1.4"/><polygon points="926.8,75.7 931.58,69.82 934.34,74.93" fill="#2fb5ee"/><polygon points="947,64.8 942.22,70.68 939.46,65.57" fill="#2fb5ee"/>
<polyline points="115.2,56.7 108.4,60 226,128.6 232,125.4" fill="none" stroke="#2fb5ee" stroke-width="1.4" stroke-linejoin="round"/>
<polygon points="118.6,55 113.59,60.68 111.04,55.48" fill="#2fb5ee"/>
<polygon points="235.4,123.6 230.39,129.28 227.84,124.08" fill="#2fb5ee"/>
<g fill="#585d65" transform="matrix(0.8639 0.5037 -0.9193 0.7713 275.6 52.2)"><text x="0" y="6.08" font-size="16" font-weight="bold" text-anchor="middle">风险可视</text></g>
<g fill="#585d65" transform="matrix(0.8639 0.5037 -0.9193 0.7713 472 167.5)"><text x="0" y="6.08" font-size="16" font-weight="bold" text-anchor="middle">保护过程可视</text></g>
<g fill="#585d65" transform="matrix(0.8639 0.5037 -0.9193 0.7713 537.4 54)"><text x="0" y="6.08" font-size="16" font-weight="bold" text-anchor="middle">安全运营中心</text></g>
<g fill="#585d65" transform="matrix(0.8639 0.5037 -0.9193 0.7713 1045.6 28.1)"><text x="0" y="6.08" font-size="16" font-weight="bold" text-anchor="middle">快速响应</text></g>
<g fill="#6b7077" transform="matrix(0.8639 0.5037 -0.9193 0.7713 673.5 284.9)"><text x="0" y="6.08" font-size="16" text-anchor="middle">保护结果可视</text></g>
<g fill="#30b3ee" transform="matrix(0.8639 0.5037 -0.9193 0.7713 122.1 207.6)"><text x="0" y="5.24" font-size="13.8" text-anchor="middle">全程可视</text></g>
<g fill="#30b3ee" transform="matrix(0.8639 0.5037 -0.9193 0.7713 259.8 289.5)"><text x="0" y="5.24" font-size="13.8" text-anchor="middle">全程可视</text></g>
<g fill="#30b3ee" transform="matrix(0.8639 0.5037 -0.9193 0.7713 522.3 443.8)"><text x="0" y="5.24" font-size="13.8" text-anchor="middle">全程可视</text></g>
<g fill="#30b3ee" transform="matrix(0.8639 0.5037 -0.9193 0.7713 418.2 63.2)"><text x="0" y="5.24" font-size="13.8" text-anchor="middle">全程保护</text></g>
<g fill="#30b3ee" transform="matrix(0.8639 0.5037 -0.9193 0.7713 697.5 225.5)"><text x="0" y="5.24" font-size="13.8" text-anchor="middle">全程保护</text></g>
<g fill="#585d65" transform="matrix(0.8639 -0.5037 0.9507 0.5533 971 149)"><text x="0" y="6.31" font-size="16.6" font-weight="bold" text-anchor="middle">有</text></g>
<g fill="#585d65" transform="matrix(0.8639 -0.5037 0.9507 0.5533 1035 110.4)"><text x="0" y="6.31" font-size="16.6" font-weight="bold" text-anchor="middle">效</text></g>
<g fill="#585d65" transform="matrix(0.8639 -0.5037 0.9507 0.5533 680.7 436.6)"><text x="0" y="6.31" font-size="16.6" font-weight="bold" text-anchor="middle">简</text></g>
<g fill="#585d65" transform="matrix(0.8639 -0.5037 0.9507 0.5533 743.4 397.2)"><text x="0" y="6.31" font-size="16.6" font-weight="bold" text-anchor="middle">单</text></g>
<rect x="75" y="15.8" width="43.6" height="24.3" fill="url(#lb)" filter="url(#sh)"/><text x="82.45" y="34.61" font-size="14.7" letter-spacing="-0.7" fill="#62676f">资产</text>
<rect x="132.5" y="50" width="45" height="24.3" fill="url(#lb)" filter="url(#sh)"/><text x="140.65" y="68.81" font-size="14.7" letter-spacing="-0.7" fill="#62676f">漏洞</text>
<rect x="184.3" y="84.6" width="51.7" height="24.4" fill="url(#lb)" filter="url(#sh)"/><text x="188.8" y="103.46" font-size="14.7" letter-spacing="-0.7" fill="#62676f">弱密码</text>
<rect x="27" y="87.8" width="84.75" height="23" fill="url(#lb)" filter="url(#sh)"/><text x="34.02" y="105.96" font-size="14.7" letter-spacing="-0.7" fill="#62676f">策略有效性</text>
<rect x="298.25" y="165" width="85" height="23.9" fill="url(#lb)" filter="url(#sh)"/><text x="305.4" y="183.61" font-size="14.7" letter-spacing="-0.7" fill="#62676f">攻击链可视</text>
<rect x="221.25" y="210" width="85" height="24" fill="url(#lb)" filter="url(#sh)"/><text x="235.4" y="228.66" font-size="14.7" letter-spacing="-0.7" fill="#62676f">攻击举证</text>
<rect x="427.5" y="247" width="91.7" height="24" fill="url(#lb)" filter="url(#sh)"/><text x="431" y="265.66" font-size="14.7" letter-spacing="-0.7" fill="#62676f">整体安全态势</text>
<rect x="332.5" y="292.6" width="113.5" height="24.2" fill="url(#lb)" filter="url(#sh)"/><text x="339.9" y="311.36" font-size="14.7" letter-spacing="-0.7" fill="#62676f">已入侵安全事件</text>
<rect x="495" y="284" width="92" height="24" fill="url(#lb)" filter="url(#sh)"/><text x="498.65" y="302.66" font-size="14.7" letter-spacing="-0.7" fill="#62676f">资产保护结果</text>
<rect x="431" y="329" width="74.5" height="24" fill="url(#lb)" filter="url(#sh)"/><text x="439.9" y="347.66" font-size="14.7" letter-spacing="-0.7" fill="#62676f">代办事项</text>
<rect x="570.8" y="320" width="74.2" height="23.6" fill="url(#lb)" filter="url(#sh)"/><text x="579.55" y="338.46" font-size="14.7" letter-spacing="-0.7" fill="#62676f">运营月报</text>
<rect x="476" y="364.9" width="93" height="23.7" fill="url(#lb)" filter="url(#sh)"/><text x="480.15" y="383.41" font-size="14.7" letter-spacing="-0.7" fill="#62676f">紧急事件报告</text>
<rect x="534.5" y="23.7" width="129.3" height="23.9" fill="url(#lb)" filter="url(#sh)"/>
<text x="539.7" y="42.31" font-size="14.7" letter-spacing="-0.7" fill="#62676f">新型威胁</text>
<text x="600.2" y="42.01" font-size="15" fill="#62676f">(</text>
<text x="609.1" y="42.31" font-size="14.7" letter-spacing="-0.7" fill="#62676f">云沙盒</text>
<text x="655.4" y="42.01" font-size="15" fill="#62676f">)</text>
<rect x="873.2" y="17" width="85.1" height="23.6" fill="url(#lb)" filter="url(#sh)"/><text x="887.4" y="35.46" font-size="14.7" letter-spacing="-0.7" fill="#62676f">微信告警</text>
<rect x="795.5" y="61.6" width="85" height="23.8" fill="url(#lb)" filter="url(#sh)"/><text x="809.65" y="80.16" font-size="14.7" letter-spacing="-0.7" fill="#62676f">恢复工具</text>
<rect x="731.2" y="106.7" width="73.1" height="23.9" fill="url(#lb)" filter="url(#sh)"/><text x="739.4" y="125.31" font-size="14.7" letter-spacing="-0.7" fill="#62676f">云端服务</text>
<rect x="610" y="-24" width="130" height="26" fill="url(#lb)" filter="url(#sh)"/>
<polygon points="1090.7,-1 1113.7,13.6 1113.7,-1" fill="#0094d6"/>
<circle cx="1212.8" cy="487.7" r="30" fill="#124f7f" filter="url(#sh2)"/>
<rect x="1197.7" y="475.8" width="20" height="18.4" rx="2.5" fill="#fff"/>
</svg>
<div class="txt">
<span class="lb" style="left:75px;top:15.8px;width:43.6px;height:24.3px;line-height:24.3px">资产</span>
<span class="lb" style="left:132.5px;top:50px;width:45px;height:24.3px;line-height:24.3px">漏洞</span>
<span class="lb" style="left:184.3px;top:84.6px;width:51.7px;height:24.4px;line-height:24.4px">弱密码</span>
<span class="lb" style="left:27px;top:87.8px;width:84.75px;height:23px;line-height:23px">策略有效性</span>
<span class="lb" style="left:298.25px;top:165px;width:85px;height:23.9px;line-height:23.9px">攻击链可视</span>
<span class="lb" style="left:221.25px;top:210px;width:85px;height:24px;line-height:24px">攻击举证</span>
<span class="lb" style="left:427.5px;top:247px;width:91.7px;height:24px;line-height:24px">整体安全态势</span>
<span class="lb" style="left:332.5px;top:292.6px;width:113.5px;height:24.2px;line-height:24.2px">已入侵安全事件</span>
<span class="lb" style="left:495px;top:284px;width:92px;height:24px;line-height:24px">资产保护结果</span>
<span class="lb" style="left:431px;top:329px;width:74.5px;height:24px;line-height:24px">代办事项</span>
<span class="lb" style="left:570.8px;top:320px;width:74.2px;height:23.6px;line-height:23.6px">运营月报</span>
<span class="lb" style="left:476px;top:364.9px;width:93px;height:23.7px;line-height:23.7px">紧急事件报告</span>
<span class="lb" style="left:534.5px;top:23.7px;width:129.3px;height:23.9px;line-height:23.9px">新型威胁（云沙盒）</span>
<span class="lb" style="left:873.2px;top:17px;width:85.1px;height:23.6px;line-height:23.6px">微信告警</span>
<span class="lb" style="left:795.5px;top:61.6px;width:85px;height:23.8px;line-height:23.8px">恢复工具</span>
<span class="lb" style="left:731.2px;top:106.7px;width:73.1px;height:23.9px;line-height:23.9px">云端服务</span>
<span class="it" style="left:239.6px;top:42.2px;width:72px;font-size:16px;transform:rotate(30deg)">风险可视</span>
<span class="it" style="left:420px;top:157.5px;width:104px;font-size:16px;transform:rotate(30deg)">保护过程可视</span>
<span class="it" style="left:484px;top:42.5px;width:104px;font-size:16px;transform:rotate(30deg)">安全运营中心</span>
<span class="it" style="left:1009.6px;top:18.1px;width:72px;font-size:16px;transform:rotate(30deg)">快速响应</span>
<span class="it" style="left:621.8px;top:274.9px;width:104px;font-size:16px;transform:rotate(30deg)">保护结果可视</span>
<span class="it" style="left:90.1px;top:197.6px;width:64px;font-size:14px;transform:rotate(30deg)">全程可视</span>
<span class="it" style="left:227.8px;top:279.5px;width:64px;font-size:14px;transform:rotate(30deg)">全程可视</span>
<span class="it" style="left:491.5px;top:434px;width:64px;font-size:14px;transform:rotate(30deg)">全程可视</span>
<span class="it" style="left:384.9px;top:48.8px;width:64px;font-size:14px;transform:rotate(30deg)">全程保护</span>
<span class="it" style="left:665.5px;top:215.5px;width:64px;font-size:14px;transform:rotate(30deg)">全程保护</span>
<span class="it" style="left:983px;top:120px;width:40px;font-size:16px;transform:rotate(-30deg)">有效</span>
<span class="it" style="left:692px;top:407.5px;width:40px;font-size:16px;transform:rotate(-30deg)">简单</span>
</div>
</div>
</body>
</html>
